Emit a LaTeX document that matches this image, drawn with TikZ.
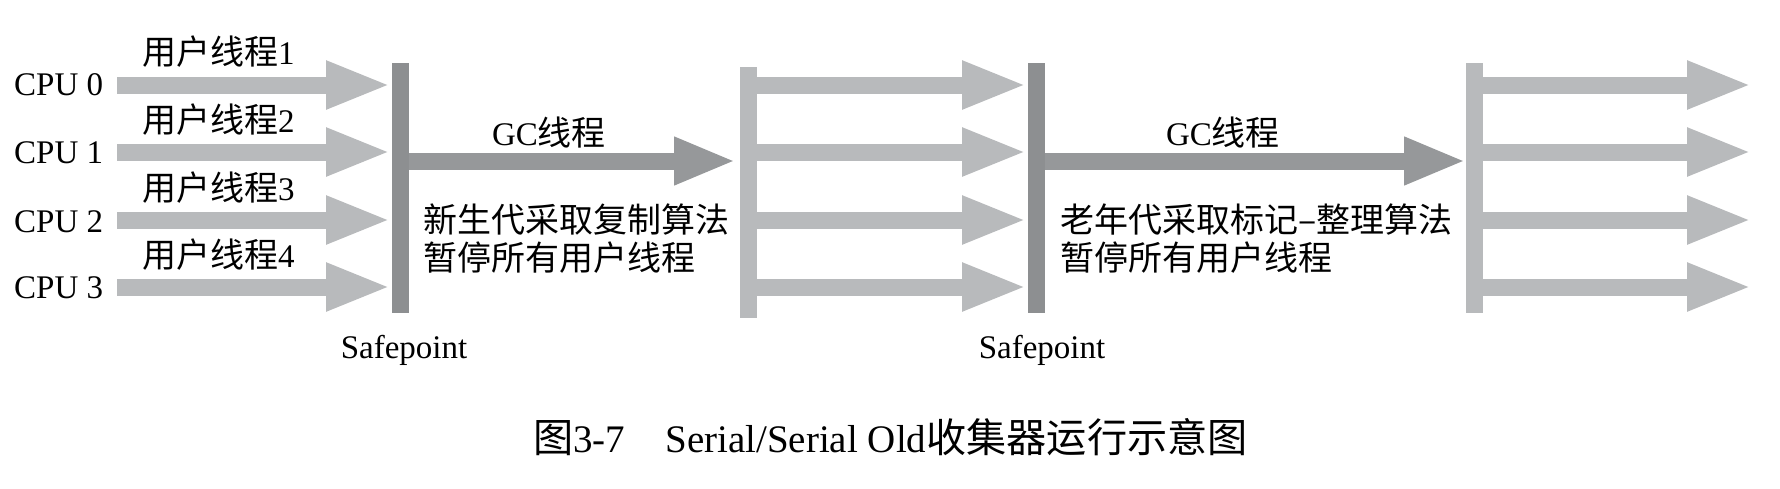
\documentclass[tikz,border=0pt]{standalone}
\usepackage{fontspec}
\setmainfont{Liberation Serif}
\newfontfamily\cjk[Scale=1.03]{Noto Sans CJK SC}
\usetikzlibrary{arrows.meta}
\definecolor{lightbar}{RGB}{184,186,188}
\definecolor{darkbar}{RGB}{141,143,145}
\definecolor{gcarrow}{RGB}{150,152,154}
\tikzset{
  txt/.style={inner sep=0pt, font=\fontsize{33}{38}\selectfont},
  captxt/.style={inner sep=0pt, font=\fontsize{39}{45}\selectfont},
  barbox/.style={inner sep=0pt, minimum width=17pt, minimum height=250pt, draw=none},
  userarrow/.style={draw=lightbar, line width=17pt, -{Triangle[length=65pt,width=44pt]}, shorten >=0pt},
  gcarr/.style={draw=gcarrow, line width=17pt, -{Triangle[length=62pt,width=44pt]}},
}
\begin{document}
\begin{tikzpicture}[x=1pt,y=-1pt]
\useasboundingbox (0,0) rectangle (1780,488);
% bars
\node[barbox, fill=darkbar]  (b1) at (400.5,188) {};
\node[barbox, fill=lightbar, minimum height=251pt] (b2) at (748.5,192.5) {};
\node[barbox, fill=darkbar]  (b3) at (1036.5,188) {};
\node[barbox, fill=lightbar] (b4) at (1474.5,188) {};
% row coordinates
\foreach \i/\y in {0/85,1/152,2/220,3/287}{
  \coordinate (s\i) at (117,\y);
  \coordinate (t\i) at (391,\y);
  \coordinate (m\i) at (1027,\y);
  \coordinate (e\i) at (1752,\y);
}
% CPU labels
\node[txt, anchor=west] (c0) at (14,85) {CPU 0};
\node[txt, anchor=west] (c1) at (14,153) {CPU 1};
\node[txt, anchor=west] (c2) at (14,222) {CPU 2};
\node[txt, anchor=west] (c3) at (14,288) {CPU 3};
% thread labels
\node[txt, anchor=west] (u0) at (142,52) {{\cjk 用户线程}1};
\node[txt, anchor=west] (u1) at (142,120) {{\cjk 用户线程}2};
\node[txt, anchor=west] (u2) at (142,188) {{\cjk 用户线程}3};
\node[txt, anchor=west] (u3) at (142,255) {{\cjk 用户线程}4};
% user thread arrows
\foreach \i in {0,1,2,3}{
  \draw[userarrow] (s\i) -- (t\i);
  \draw[userarrow] (b2.east |- m\i) -- (m\i);
  \draw[userarrow] (b4.east |- e\i) -- (e\i);
}
% GC arrows
\coordinate (g1) at (736,161);
\coordinate (g2) at (1466,161);
\draw[gcarr] (b1.east |- g1) -- (g1);
\draw[gcarr] (b3.east |- g2) -- (g2);
% GC labels
\node[txt] (gc1) at (549,133) {GC{\cjk 线程}};
\node[txt] (gc2) at (1223,133) {GC{\cjk 线程}};
% descriptions
\node[txt, anchor=west] (d1a) at (423,220) {\cjk 新生代采取复制算法};
\node[txt, anchor=west] (d1b) at (423,258) {\cjk 暂停所有用户线程};
\node[txt, anchor=west] (d2a) at (1060,220) {\cjk 老年代采取标记–整理算法};
\node[txt, anchor=west] (d2b) at (1060,258) {\cjk 暂停所有用户线程};
% safepoints
\node[txt] (sp1) at (404,350) {Safepoint};
\node[txt] (sp2) at (1042,350) {Safepoint};
% caption
\node[captxt, anchor=west] (cap) at (533,437) {{\cjk 图}3-7\hspace{40pt}Serial/Serial Old{\cjk 收集器运行示意图}};
\end{tikzpicture}
\end{document}
